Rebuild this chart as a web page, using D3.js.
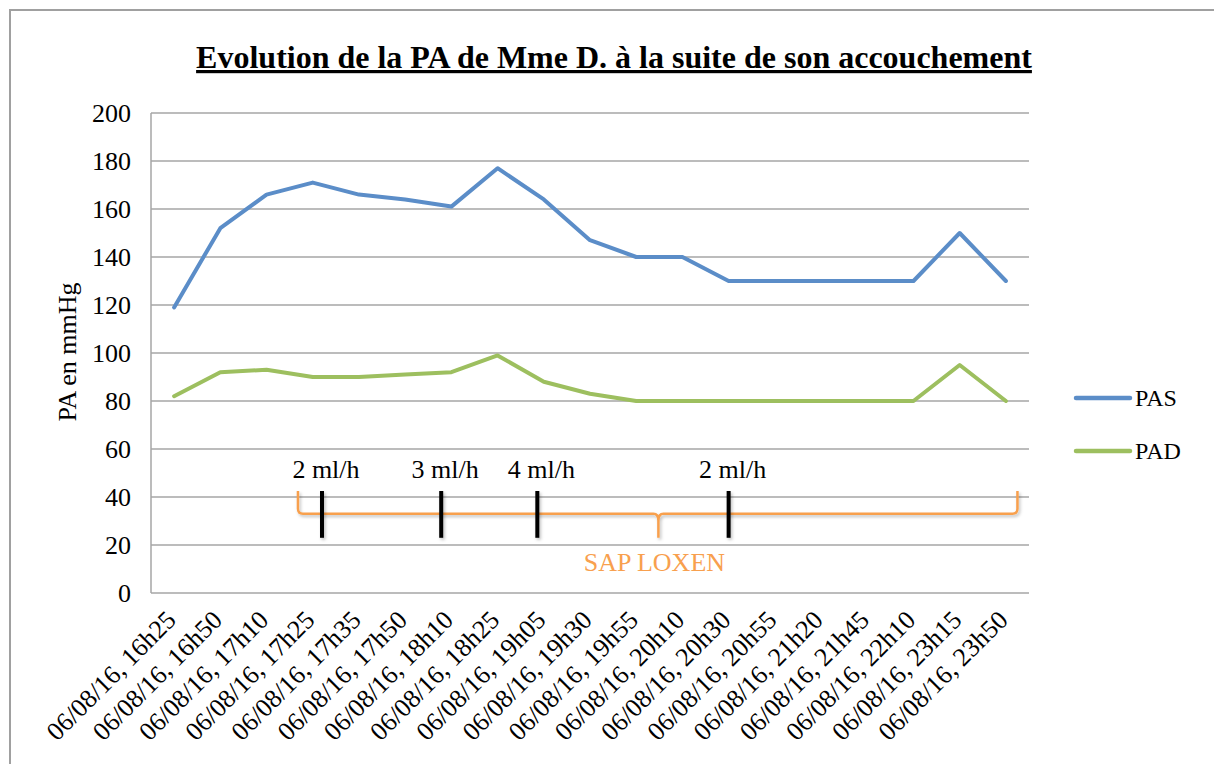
<!DOCTYPE html>
<html>
<head>
<meta charset="utf-8">
<script src="https://cdn.jsdelivr.net/npm/d3@7"></script>
<style>
  body { margin: 0; background: #fff; }
  svg { display: block; font-family: "Liberation Serif", "Times New Roman", serif; }
</style>
</head>
<body>
<svg id="chart" width="1214" height="764"></svg>
<script>
// Data
const categories = [
  "06/08/16, 16h25", "06/08/16, 16h50", "06/08/16, 17h10", "06/08/16, 17h25",
  "06/08/16, 17h35", "06/08/16, 17h50", "06/08/16, 18h10", "06/08/16, 18h25",
  "06/08/16, 19h05", "06/08/16, 19h30", "06/08/16, 19h55", "06/08/16, 20h10",
  "06/08/16, 20h30", "06/08/16, 20h55", "06/08/16, 21h20", "06/08/16, 21h45",
  "06/08/16, 22h10", "06/08/16, 23h15", "06/08/16, 23h50"
];
const pas = [119, 152, 166, 171, 166, 164, 161, 177, 164, 147, 140, 140, 130, 130, 130, 130, 130, 150, 130];
const pad = [82, 92, 93, 90, 90, 91, 92, 99, 88, 83, 80, 80, 80, 80, 80, 80, 80, 95, 80];
const yTicks = [0, 20, 40, 60, 80, 100, 120, 140, 160, 180, 200];

// infusion rate changes (position in category index units)
const doseIndex = [3.2, 5.78, 7.86, 12.0];
const doseLabels = ["2 ml/h", "3 ml/h", "4 ml/h", "2 ml/h"];
// brace spanning the SAP LOXEN period: start, middle, end (index units)
const bracePos = [2.68, 10.48, 18.25];
// brace heights in mmHg: tip, line, dip
const braceVal = [42.5, 33, 23];

const series = [
  { name: "PAS", values: pas, color: "#5b8dc8" },
  { name: "PAD", values: pad, color: "#9dbf5f" }
];

const svg = d3.select("#chart");
const margin = { top: 113, left: 151, right: 1029, bottom: 593 };

// outer frame
svg.append("rect")
    .attr("x", 10).attr("y", 10)
    .attr("width", 1230).attr("height", 780)
    .attr("fill", "none")
    .attr("stroke", "#a0a0a0")
    .attr("stroke-width", 2);

const x = d3.scaleBand()
    .domain(categories)
    .range([margin.left, margin.right]);

const y = d3.scaleLinear()
    .domain([0, 200])
    .range([margin.bottom, margin.top]);

// category index -> pixel, for the annotations
const xi = d3.scaleLinear()
    .domain([0, categories.length - 1])
    .range([x(categories[0]) + x.bandwidth() / 2, x(categories[categories.length - 1]) + x.bandwidth() / 2]);

// gridlines
svg.append("g")
    .selectAll("line")
    .data(yTicks)
    .enter().append("line")
    .attr("x1", margin.left).attr("x2", margin.right)
    .attr("y1", d => y(d)).attr("y2", d => y(d))
    .attr("stroke", "#a6a6a6")
    .attr("stroke-width", 1.5);

// y axis line
svg.append("line")
    .attr("x1", margin.left).attr("x2", margin.left)
    .attr("y1", margin.top).attr("y2", margin.bottom)
    .attr("stroke", "#a6a6a6")
    .attr("stroke-width", 1.5);

// y tick labels
svg.append("g")
    .selectAll("text")
    .data(yTicks)
    .enter().append("text")
    .attr("x", 131)
    .attr("y", d => y(d))
    .attr("dy", "0.35em")
    .attr("text-anchor", "end")
    .style("font-size", "26px")
    .text(d => d);

// y axis title
svg.append("text")
    .attr("transform", "translate(76,352)rotate(-90)")
    .attr("text-anchor", "middle")
    .style("font-size", "26px")
    .text("PA en mmHg");

// x labels
svg.append("g")
    .selectAll("text")
    .data(categories)
    .enter().append("text")
    .attr("transform", d => "translate(" + (x(d) + x.bandwidth() / 2 - 3) + "," + (margin.bottom + 22) + ")rotate(-45)")
    .attr("text-anchor", "end")
    .attr("dy", "0.35em")
    .style("font-size", "26px")
    .text(d => d);

// title
svg.append("text")
    .attr("x", 614)
    .attr("y", 68)
    .attr("text-anchor", "middle")
    .style("font-size", "32px")
    .style("font-weight", "bold")
    .style("text-decoration", "underline")
    .text("Evolution de la PA de Mme D. à la suite de son accouchement");

// series lines
const line = d3.line()
    .x((d, i) => x(categories[i]) + x.bandwidth() / 2)
    .y(d => y(d));

svg.append("g")
    .selectAll("path")
    .data(series)
    .enter().append("path")
    .attr("d", d => line(d.values))
    .attr("fill", "none")
    .attr("stroke", d => d.color)
    .attr("stroke-width", 4)
    .attr("stroke-linejoin", "round")
    .attr("stroke-linecap", "round");

// shadow for annotations (user space so zero-width lines still render)
const defs = svg.append("defs");
const shadow = defs.append("filter").attr("id", "shadow")
    .attr("filterUnits", "userSpaceOnUse")
    .attr("x", 0).attr("y", 0).attr("width", 1214).attr("height", 764);
shadow.append("feDropShadow")
    .attr("dx", 1.5).attr("dy", 2).attr("stdDeviation", 1.5)
    .attr("flood-color", "#000").attr("flood-opacity", 0.25);

// SAP brace
const bx0 = xi(bracePos[0]), bm = xi(bracePos[1]), bx1 = xi(bracePos[2]);
const byTop = y(braceVal[0]), byLine = y(braceVal[1]), byDip = y(braceVal[2]);
const r = 5;
const brace = d3.path();
brace.moveTo(bx0, byTop);
brace.lineTo(bx0, byLine - r);
brace.quadraticCurveTo(bx0, byLine, bx0 + r, byLine);
brace.lineTo(bm - r, byLine);
brace.quadraticCurveTo(bm, byLine, bm, byLine + r + 2);
brace.lineTo(bm, byDip);
brace.moveTo(bm, byLine + r + 2);
brace.quadraticCurveTo(bm, byLine, bm + r, byLine);
brace.lineTo(bx1 - r, byLine);
brace.quadraticCurveTo(bx1, byLine, bx1, byLine - r);
brace.lineTo(bx1, byTop);

svg.append("path")
    .attr("d", brace.toString())
    .attr("fill", "none")
    .attr("stroke", "#f8a04e")
    .attr("stroke-width", 2.5)
    .attr("filter", "url(#shadow)");

// dose change ticks
svg.append("g")
    .attr("filter", "url(#shadow)")
    .selectAll("line")
    .data(doseIndex)
    .enter().append("line")
    .attr("x1", d => xi(d)).attr("x2", d => xi(d))
    .attr("y1", byTop).attr("y2", byDip)
    .attr("stroke", "#000")
    .attr("stroke-width", 4);

svg.append("g")
    .selectAll("text")
    .data(doseIndex)
    .enter().append("text")
    .attr("x", d => xi(d) + 4)
    .attr("y", y(51) + 7)
    .attr("text-anchor", "middle")
    .style("font-size", "26px")
    .text((d, i) => doseLabels[i]);

svg.append("text")
    .attr("x", bm - 4)
    .attr("y", 571)
    .attr("text-anchor", "middle")
    .attr("fill", "#f8a04e")
    .style("font-size", "26px")
    .text("SAP LOXEN");

// legend
const legend = svg.append("g")
    .selectAll("g")
    .data(series)
    .enter().append("g")
    .attr("transform", (d, i) => "translate(1076," + (398 + i * 53) + ")");

legend.append("line")
    .attr("x1", 0).attr("x2", 54)
    .attr("stroke", d => d.color)
    .attr("stroke-width", 4.5)
    .attr("stroke-linecap", "round");

legend.append("text")
    .attr("x", 59)
    .attr("dy", "0.35em")
    .style("font-size", "24px")
    .text(d => d.name);
</script>
</body>
</html>
